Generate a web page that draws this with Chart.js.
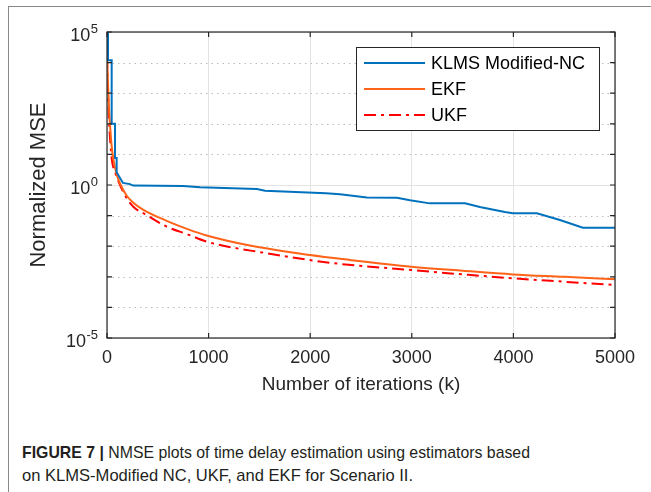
<!DOCTYPE html>
<html><head><meta charset="utf-8">
<script src="https://cdn.jsdelivr.net/npm/chart.js@4.4.1/dist/chart.umd.min.js"></script>
<style>
html,body{margin:0;padding:0;background:#fff;width:651px;height:492px;overflow:hidden;}
#frame{position:absolute;left:8px;top:6px;width:643px;height:486px;border-left:1px solid #8a8a8a;border-top:1px solid #8a8a8a;}
#c{position:absolute;left:0;top:0;}
#cap{position:absolute;left:22px;top:441px;font-family:"Liberation Sans",Arial,sans-serif;font-size:17px;line-height:23px;color:#231f20;white-space:nowrap;}
#cap div{transform-origin:0 0;}
#cap span{display:inline-block;}
#cap b{font-weight:bold;}
</style></head><body>
<div id="frame"></div>
<canvas id="c" width="651" height="400"></canvas>
<div id="cap"><div><span id="l1"><b>FIGURE 7 |</b> NMSE plots of time delay estimation using estimators based</span></div><div><span id="l2">on KLMS-Modified NC, UKF, and EKF for Scenario II.</span></div></div>
<script>
// ---- data ----
const seriesNames = ["KLMS Modified-NC", "EKF", "UKF"];
const iterKLMS = [10,10,46,46,79,79,95,95,128,157,226,256,748,915,1476,1555,2155,2293,2558,2854,2982,3178,3523,3670,3916,3995,4231,4458,4684,5000];
const mseKLMS  = [1e5,1.2e4,1.2e4,100,100,7.6,7.6,2.6,1.7,1.17,1.07,0.955,0.933,0.85,0.74,0.646,0.537,0.5,0.389,0.38,0.316,0.251,0.251,0.19,0.132,0.12,0.12,0.072,0.04,0.04];
const iterEKF = [0,10,20,30,45,62,95,128,194,256,354,587,800,981,1407,1998,2391,2998,3500,3995,4500,5000];
const mseEKF  = [2.0e4,2.0e3,316,91,20,7.1,2.24,1.12,0.447,0.269,0.158,0.0676,0.0355,0.0224,0.0105,0.00513,0.00355,0.00214,0.00158,0.0012,0.001,0.00083];
const iterUKF = [0,10,20,46,79,128,194,259,400,587,800,981,1571,2194,2998,3500,3995,4500,5000];
const mseUKF  = [1.6e4,1000,126,7.6,2.7,1.0,0.37,0.195,0.1,0.0437,0.024,0.0141,0.0059,0.00288,0.00166,0.0012,0.00089,0.00069,0.00054];
const xTicks = [0,1000,2000,3000,4000,5000];
const yDecades = [1e-5,1e-4,1e-3,1e-2,1e-1,1,10,100,1000,1e4,1e5];
const yMajorTicks = [1e-5,1,1e5];
const yMajorExp = ["-5","0","5"];

// caption lines squeezed to the condensed widths of the original
[["l1",508],["l2",391]].forEach(([id,target])=>{
  const sp = document.getElementById(id);
  const w = sp.getBoundingClientRect().width;
  sp.parentNode.style.transform = 'scaleX(' + (target / w) + ')';
});

function pts(xs, ys){ return xs.map((x,i)=>({x:x,y:ys[i]})); }
function majorIndex(v){ return yMajorTicks.findIndex(m => Math.abs(Math.log10(v) - Math.log10(m)) < 1e-6); }

const FONT = "'Liberation Sans', Arial, Helvetica, sans-serif";
const AX = '#262626';

const matlabPlugin = {
  id:'matlab',
  beforeDatasetsDraw(chart){
    const {ctx, chartArea:a, scales:{y}} = chart;
    ctx.save();
    ctx.strokeStyle = '#bdbdbd'; ctx.lineWidth = 1; ctx.setLineDash([1.5,4]);
    yDecades.forEach(v=>{
      if (majorIndex(v) >= 0) return;
      const py = Math.round(y.getPixelForValue(v))+0.5;
      ctx.beginPath(); ctx.moveTo(a.left, py); ctx.lineTo(a.right, py); ctx.stroke();
    });
    ctx.restore();
  },
  afterDraw(chart){
    const {ctx, chartArea:a, scales:{x,y}} = chart;
    ctx.save();
    // y tick labels 10^n with superscript exponent
    ctx.fillStyle = AX; ctx.textBaseline = 'alphabetic'; ctx.textAlign = 'right';
    yMajorTicks.forEach((v,i)=>{
      const py = y.getPixelForValue(v);
      const right = a.left - 9;
      ctx.font = "13px " + FONT;
      const ew = ctx.measureText(yMajorExp[i]).width;
      ctx.fillText(yMajorExp[i], right, py + 1);
      ctx.font = "18px " + FONT;
      ctx.fillText("10", right - ew - 0.5, py + 9);
    });
    ctx.textAlign = 'left';
    // axes box + inward ticks
    ctx.strokeStyle = AX; ctx.lineWidth = 1.2; ctx.setLineDash([]);
    ctx.strokeRect(a.left, a.top, a.right-a.left, a.bottom-a.top);
    const tl = 5;
    ctx.beginPath();
    xTicks.forEach(v=>{
      const px = x.getPixelForValue(v);
      ctx.moveTo(px, a.bottom); ctx.lineTo(px, a.bottom-tl);
      ctx.moveTo(px, a.top); ctx.lineTo(px, a.top+tl);
    });
    yDecades.forEach(v=>{
      const py = y.getPixelForValue(v);
      ctx.moveTo(a.left, py); ctx.lineTo(a.left+tl, py);
      ctx.moveTo(a.right, py); ctx.lineTo(a.right-tl, py);
    });
    ctx.stroke();
    // legend (inside axes, top-right)
    const bx = 356, by = 47, bw = 243, bh = 83;
    ctx.fillStyle = '#fff';
    ctx.fillRect(bx, by, bw, bh);
    ctx.strokeStyle = '#262626'; ctx.lineWidth = 1;
    ctx.strokeRect(bx+0.5, by+0.5, bw, bh);
    ctx.font = "18px " + FONT;
    ctx.textBaseline = 'middle';
    chart.data.datasets.forEach((ds,i)=>{
      const ry = by + 16 + i*26;
      ctx.strokeStyle = ds.borderColor; ctx.lineWidth = ds.borderWidth;
      ctx.setLineDash(ds.borderDash || []);
      ctx.beginPath(); ctx.moveTo(bx+8, ry); ctx.lineTo(bx+69, ry); ctx.stroke();
      ctx.setLineDash([]);
      ctx.fillStyle = '#000';
      ctx.fillText(ds.label, bx+75, ry+1);
    });
    ctx.restore();
  }
};

new Chart(document.getElementById('c'), {
  type:'line',
  data:{ datasets:[
    {label:seriesNames[0], data:pts(iterKLMS, mseKLMS), borderColor:'#0072BD', borderWidth:2, pointRadius:0, tension:0, fill:false},
    {label:seriesNames[1], data:pts(iterEKF, mseEKF), borderColor:'#FF6319', borderWidth:2, pointRadius:0, cubicInterpolationMode:'monotone', fill:false},
    {label:seriesNames[2], data:pts(iterUKF, mseUKF), borderColor:'#FF0000', borderWidth:2, borderDash:[12,5,3,5], pointRadius:0, cubicInterpolationMode:'monotone', fill:false}
  ]},
  options:{
    responsive:false, animation:false, devicePixelRatio:1,
    layout:{padding:{top:32,right:36,left:0,bottom:0}},
    plugins:{legend:{display:false}, tooltip:{enabled:false}},
    scales:{
      x:{type:'linear', min:0, max:5000,
         afterBuildTicks:s=>{ s.ticks = xTicks.map(v=>({value:v})); },
         afterFit:s=>{ s.height = 62; },
         grid:{color:'#e3e3e3', lineWidth:1, drawTicks:false},
         border:{display:false},
         ticks:{padding:9, color:AX, font:{family:FONT, size:18}, maxRotation:0, autoSkip:false,
                callback:(v)=> String(v)},
         title:{display:true, text:'Number of iterations (k)', color:AX, font:{family:FONT, size:19}, padding:{top:0,bottom:4}}
      },
      y:{type:'logarithmic', min:1e-5, max:1e5,
         afterBuildTicks:s=>{ s.ticks = yDecades.map(v=>({value:v})); },
         afterFit:s=>{ s.width = 107; },
         grid:{color:c=> (c.tick && majorIndex(c.tick.value) >= 0) ? '#e3e3e3' : 'rgba(0,0,0,0)', lineWidth:1, drawTicks:false},
         border:{display:false},
         ticks:{display:false, autoSkip:false},
         title:{display:true, text:'Normalized MSE', color:AX, font:{family:FONT, size:22}, padding:{top:26,bottom:0}}
      }
    }
  },
  plugins:[matlabPlugin]
});
</script>
</body></html>
